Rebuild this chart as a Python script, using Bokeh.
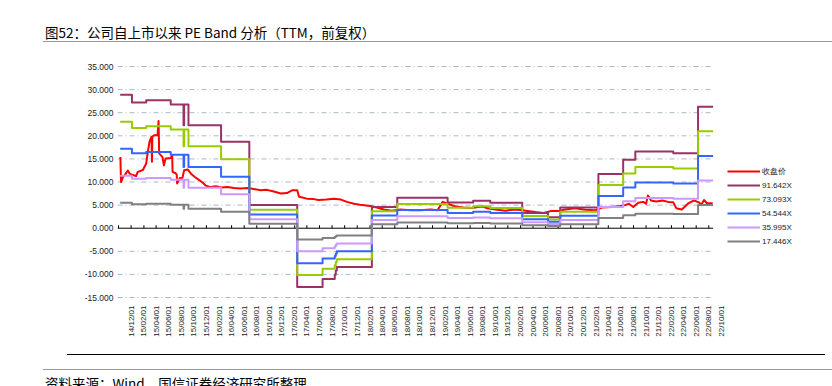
import math
import pandas as pd
from bokeh.plotting import figure
from bokeh.models import (Range1d, FixedTicker, DatetimeTickFormatter, NumeralTickFormatter,
                          Legend, LegendItem, Div)
from bokeh.layouts import column
from bokeh.embed import file_html
from bokeh.resources import INLINE

# ---------------- data ----------------
TITLE = "图52：公司自上市以来 PE Band 分析（TTM，前复权）"
SOURCE = "资料来源：Wind，国信证券经济研究所整理"

price_dates = [
    "2014-10-10", "2014-10-13", "2014-10-23", "2014-11-02", "2014-11-15", "2014-11-24",
    "2014-12-09", "2014-12-25", "2015-01-02", "2015-01-27", "2015-02-12", "2015-02-20",
    "2015-02-28", "2015-03-06", "2015-03-10", "2015-03-12", "2015-03-14", "2015-03-22",
    "2015-04-08", "2015-04-13", "2015-04-16", "2015-05-02", "2015-05-09", "2015-05-17",
    "2015-06-11", "2015-06-18", "2015-06-20", "2015-07-05", "2015-07-10", "2015-07-12",
    "2015-07-24", "2015-08-07", "2015-08-15", "2015-09-02", "2015-09-17", "2015-10-06",
    "2015-10-27", "2015-11-12", "2015-11-29", "2015-12-22", "2016-01-16", "2016-02-10",
    "2016-03-13", "2016-04-12", "2016-05-16", "2016-06-19", "2016-07-17", "2016-08-21",
    "2016-09-19", "2016-10-18", "2016-11-26", "2016-12-25", "2017-01-19", "2017-02-13",
    "2017-02-22", "2017-04-01", "2017-05-04", "2017-05-28", "2017-07-04", "2017-08-10",
    "2017-09-13", "2017-10-12", "2017-11-16", "2017-12-25", "2018-02-02", "2018-03-06",
    "2018-04-09", "2018-05-17", "2018-06-28", "2018-08-16", "2018-10-04", "2018-11-22",
    "2018-12-25", "2019-01-19", "2019-02-12", "2019-03-22", "2019-04-29", "2019-06-10",
    "2019-07-10", "2019-08-01", "2019-08-25", "2019-10-01", "2019-11-19", "2020-01-07",
    "2020-02-09", "2020-03-04", "2020-04-13", "2020-05-22", "2020-06-25", "2020-08-01",
    "2020-09-04", "2020-10-22", "2020-12-10", "2021-01-28", "2021-03-03", "2021-04-19",
    "2021-05-28", "2021-06-22", "2021-07-10", "2021-07-31", "2021-08-24", "2021-09-17",
    "2021-10-01", "2021-10-10", "2021-10-25", "2021-11-19", "2021-12-19", "2022-01-16",
    "2022-02-10", "2022-02-25", "2022-03-23", "2022-04-22", "2022-05-21", "2022-06-15",
    "2022-06-25", "2022-07-09", "2022-07-23", "2022-08-20",
]
price_close = [
    15.4, 10.0, 11.1, 11.6, 12.5, 11.8,
    11.5, 11.3, 12.2, 12.6, 14.0, 16.5,
    18.7, 19.4, 19.8, 14.4, 19.8, 20.1,
    20.1, 23.2, 16.2, 15.4, 13.6, 15.1,
    15.2, 15.8, 12.2, 11.9, 11.6, 9.7,
    10.8, 10.9, 12.55, 12.7, 11.8, 11.1,
    10.4, 9.9, 9.2, 8.9, 9.1, 8.8,
    8.9, 8.7, 8.6, 8.7, 8.5, 8.2,
    8.3, 8.0, 7.5, 7.6, 8.2, 8.2,
    6.8, 6.4, 6.3, 6.1, 6.2, 6.4,
    6.2, 5.7, 5.3, 5.0, 4.8, 4.5,
    4.05, 3.8, 4.05, 3.9, 3.9, 4.05,
    3.9, 5.7, 5.3, 4.7, 4.5, 4.4,
    4.6, 4.7, 4.3, 4.05, 3.8, 4.05,
    3.9, 3.75, 3.5, 3.3, 3.7, 3.7,
    4.05, 4.3, 4.0, 3.9, 4.5, 4.6,
    4.8, 5.0, 5.3, 4.6, 5.5, 5.7,
    5.3, 7.1, 6.0, 5.8, 6.0, 5.7,
    5.6, 4.3, 4.05, 5.3, 6.0, 5.6,
    5.0, 6.1, 5.4, 5.4,
]

# trailing EPS (TTM) used for the PE bands, changes at report dates
eps_dates = [
    "2014-10-09", "2014-12-05", "2015-02-12", "2015-06-11", "2015-08-12", "2015-08-15",
    "2015-09-05", "2016-02-10", "2016-06-26", "2017-02-13", "2017-06-16", "2017-08-14",
    "2017-08-19", "2017-08-24", "2018-02-10", "2018-06-13", "2019-02-12", "2019-06-16",
    "2019-09-07", "2020-02-09", "2020-06-13", "2020-08-11", "2021-02-12", "2021-06-12",
    "2021-08-10", "2022-02-10", "2022-06-10", "2022-08-22",
]
eps_ttm = [
    0.315, 0.297, 0.302, 0.292, 0.243, 0.292,
    0.243, 0.204, 0.0546, -0.1386, -0.120, -0.110,
    -0.100, -0.0917, 0.050, 0.072, 0.0607, 0.065,
    0.060, 0.036, 0.026, 0.049, 0.128, 0.162,
    0.181, 0.177, 0.287, 0.287,
]

pe_multiples = [91.642, 73.093, 54.544, 35.995, 17.446]
band_names = ["91.642X", "73.093X", "54.544X", "35.995X", "17.446X"]
band_colors = ["#993366", "#99CC00", "#3366FF", "#CC99FF", "#808080"]
price_name = "收盘价"
price_color = "#FF0000"

y_ticks = [-15, -10, -5, 0, 5, 10, 15, 20, 25, 30, 35]
x_label_start, x_label_end = "2014-12-01", "2022-10-01"    # labelled ticks (every 2 months)
x_mark_start, x_mark_end = "2014-10-01", "2022-08-01"      # small tick marks on the zero axis

# ---------------- helpers ----------------
FONT = "Liberation Sans"
CJK = "'Noto Sans CJK SC', 'Noto Sans', sans-serif"
W = 832

px = pd.to_datetime(price_dates)
ex = pd.to_datetime(eps_dates)
x_start = pd.Timestamp("2014-09-26")
x_end = pd.Timestamp("2024-03-13")   # frame reaches to the right edge; legend sits inside it
grid_end = ex[-1]

# ---------------- header (title + rule) ----------------
header = Div(width=W, height=48, margin=(0, 0, 0, 0), text=(
    '<div style="position:relative;width:832px;height:48px;overflow:hidden;">'
    f'<div style="position:absolute;left:45px;top:23px;font-family:{CJK};font-size:13.5px;'
    f'line-height:18px;color:#000;white-space:nowrap;">{TITLE}</div>'
    '<div style="position:absolute;left:43px;top:41px;width:789px;height:0;'
    'border-top:1px solid #9a9a9a;"></div>'
    '</div>'))

# ---------------- main chart ----------------
p = figure(width=W, height=300, x_axis_type="datetime",
           x_range=Range1d(x_start, x_end), y_range=Range1d(-15.43, 35.22),
           output_backend="svg", toolbar_location=None,
           min_border_left=117, min_border_right=2, min_border_top=17, min_border_bottom=49)
p.outline_line_color = None
p.xgrid.visible = False
p.ygrid.visible = False
p.background_fill_color = "white"
p.border_fill_color = "white"

# dash-dot horizontal grid, ending where the data ends
grid_levels = [t for t in y_ticks if t != 0]
p.segment(x0=[x_start] * len(grid_levels), y0=grid_levels,
          x1=[grid_end] * len(grid_levels), y1=grid_levels,
          line_color="#a9b6cc", line_width=1, line_dash="5 3 1 3")

# zero axis line with small tick marks
p.segment(x0=[x_start], y0=[0], x1=[grid_end], y1=[0], line_color="#000000", line_width=1)
mark_dates = pd.date_range(x_mark_start, x_mark_end, freq="2MS")
p.ray(x=mark_dates, y=[0] * len(mark_dates), length=3, length_units="screen",
      angle=math.pi / 2, line_color="#000000", line_width=1)

# series
r_price = p.line(px, price_close, line_color=price_color, line_width=2, line_join="round")
band_renderers = []
for mult, col in zip(pe_multiples, band_colors):
    r = p.step(ex, [e * mult for e in eps_ttm], mode="after",
               line_color=col, line_width=2, line_join="round")
    band_renderers.append(r)

# axes
yax = p.yaxis[0]
yax.ticker = FixedTicker(ticks=y_ticks)
yax.formatter = NumeralTickFormatter(format="0.000")
yax.axis_line_color = None
yax.major_tick_line_color = None
yax.minor_tick_line_color = None
yax.major_tick_out = 0
yax.major_tick_in = 0
yax.major_label_standoff = 4
yax.major_label_text_font = FONT
yax.major_label_text_font_size = "8.5px"
yax.major_label_text_color = "#222222"

label_dates = pd.date_range(x_label_start, x_label_end, freq="2MS")
xax = p.xaxis[0]
xax.ticker = FixedTicker(ticks=[d.timestamp() * 1000 for d in label_dates])
fmt = "%y/%m/%d"
xax.formatter = DatetimeTickFormatter(
    microseconds=fmt, milliseconds=fmt, seconds=fmt, minsec=fmt, minutes=fmt,
    hourmin=fmt, hours=fmt, days=fmt, months=fmt, years=fmt)
xax.major_label_orientation = math.pi / 2
xax.axis_line_color = None
xax.major_tick_line_color = None
xax.minor_tick_line_color = None
xax.major_tick_out = 0
xax.major_tick_in = 0
xax.major_label_standoff = 6
xax.major_label_text_font = FONT
xax.major_label_text_font_size = "8px"
xax.major_label_text_color = "#222222"

# legend (right of the data area, inside the invisible frame)
items = [LegendItem(label=price_name, renderers=[r_price])]
items += [LegendItem(label=n, renderers=[r]) for n, r in zip(band_names, band_renderers)]
legend = Legend(items=items, location=(610, 52), orientation="vertical",
                glyph_width=33, glyph_height=12, label_height=12, spacing=2,
                label_standoff=2, padding=0, margin=0,
                border_line_color=None, background_fill_alpha=0,
                label_text_font=FONT, label_text_font_size="8px", label_text_color="#222222")
p.add_layout(legend)

# ---------------- footer (rules + source) ----------------
footer = Div(width=W, height=38, margin=(0, 0, 0, 0), text=(
    '<div style="position:relative;width:832px;height:38px;overflow:hidden;">'
    '<div style="position:absolute;left:67px;top:6px;width:758px;height:0;'
    'border-top:1px solid #000;"></div>'
    '<div style="position:absolute;left:43px;top:21px;width:789px;height:0;'
    'border-top:1px solid #9a9a9a;"></div>'
    f'<div style="position:absolute;left:45px;top:27px;font-family:{CJK};font-size:13.5px;'
    f'line-height:16px;color:#000;white-space:nowrap;">{SOURCE}</div>'
    '</div>'))

layout = column(header, p, footer, spacing=0)
open("out.html", "w").write(file_html(layout, INLINE))
